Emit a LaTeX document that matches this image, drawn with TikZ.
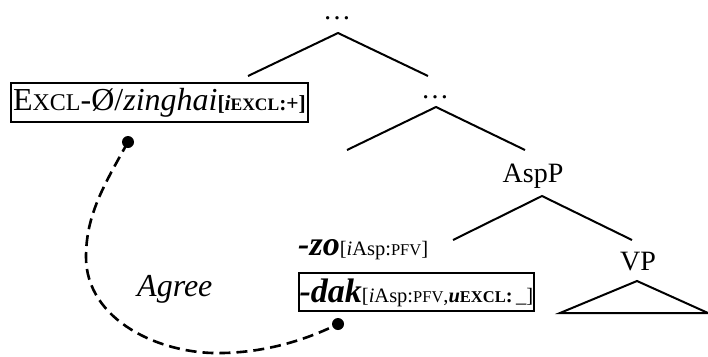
\documentclass[tikz,border=0pt]{standalone}
\usepackage{fontspec}
\setmainfont{Liberation Serif}
\newcommand{\mainsz}{\fontsize{28}{30}\selectfont}
\newcommand{\bigsz}{\fontsize{32}{34}\selectfont}
\newcommand{\subsz}{\fontsize{21.5}{23}\selectfont}
\newcommand{\dsubsz}{\fontsize{20.5}{22}\selectfont}
\newcommand{\smsz}{\fontsize{17.5}{19}\selectfont}
\newcommand{\dsmsz}{\fontsize{16.5}{18}\selectfont}
\begin{document}
\begin{tikzpicture}[x=1pt,y=-1pt,
  treeline/.style={line width=2pt},
  boxed/.style={draw, line width=2.2pt, inner ysep=0pt},
  lbl/.style={inner sep=0pt, anchor=base},
  dotnode/.style={circle, fill=black, inner sep=0pt, minimum size=12pt},
  agreeline/.style={line width=2.6pt, dash pattern=on 11pt off 6pt}]
\useasboundingbox (0,0) rectangle (708,356);
% tree
\node[lbl] (top) at (337,19) {\mainsz …};
\coordinate (tA) at (338,33);
\coordinate (tL) at (248,76);
\coordinate (tR) at (428,76);
\draw[treeline] (tL) -- (tA) -- (tR);
\node[lbl] (mid) at (435,98) {\mainsz …};
\coordinate (mA) at (436,107);
\coordinate (mL) at (347,150);
\coordinate (mR) at (525,150);
\draw[treeline] (mL) -- (mA) -- (mR);
\node[lbl] (aspp) at (533,182) {\mainsz AspP};
\coordinate (aA) at (542,196);
\coordinate (aL) at (453,240);
\coordinate (aR) at (632,240);
\draw[treeline] (aL) -- (aA) -- (aR);
\node[lbl] (vp) at (638,270) {\mainsz VP};
\coordinate (vA) at (637,281);
\coordinate (vL) at (560,313);
\coordinate (vR) at (708,313);
\draw[treeline] (vA) -- (vL) -- (vR) -- cycle;
% Excl box
\node[boxed, inner xsep=2pt, text height=27pt, text depth=12pt, anchor=base west] (excl) at (10,110)
  {\bigsz E{\fontsize{24}{26}\selectfont XCL}-Ø/\textit{zinghai}{\subsz\bfseries[\textit{i}{\smsz EXCL}:+]}};
% -zo
\node[lbl, anchor=base west] (zo) at (298,255)
  {\fontsize{34}{36}\selectfont\bfseries\itshape -zo{\dsubsz\mdseries\upshape[\textit{i}Asp:{\dsmsz PFV}]}};
% -dak box
\node[boxed, inner xsep=0.5pt, text height=29pt, text depth=9pt, anchor=base west] (dak) at (298,302)
  {\fontsize{34}{36}\selectfont\bfseries\itshape -dak{\dsubsz\mdseries\upshape[\textit{i}Asp:{\dsmsz PFV},\textbf{\textit{u}}\textbf{{\dsmsz EXCL}:}\,\_]}};
% Agree
\node[lbl, anchor=base west] (agree) at (137,296) {\bigsz\itshape Agree};
% dots and curve
\node[dotnode] (d1) at (128,142) {};
\node[dotnode] (d2) at (338,324) {};
\draw[agreeline] (d1.center) .. controls (104,185) and (86,215) .. (86,257)
  .. controls (86,320) and (160,355) .. (223,353)
  .. controls (270,352) and (310,338) .. (d2.center);
\end{tikzpicture}
\end{document}
